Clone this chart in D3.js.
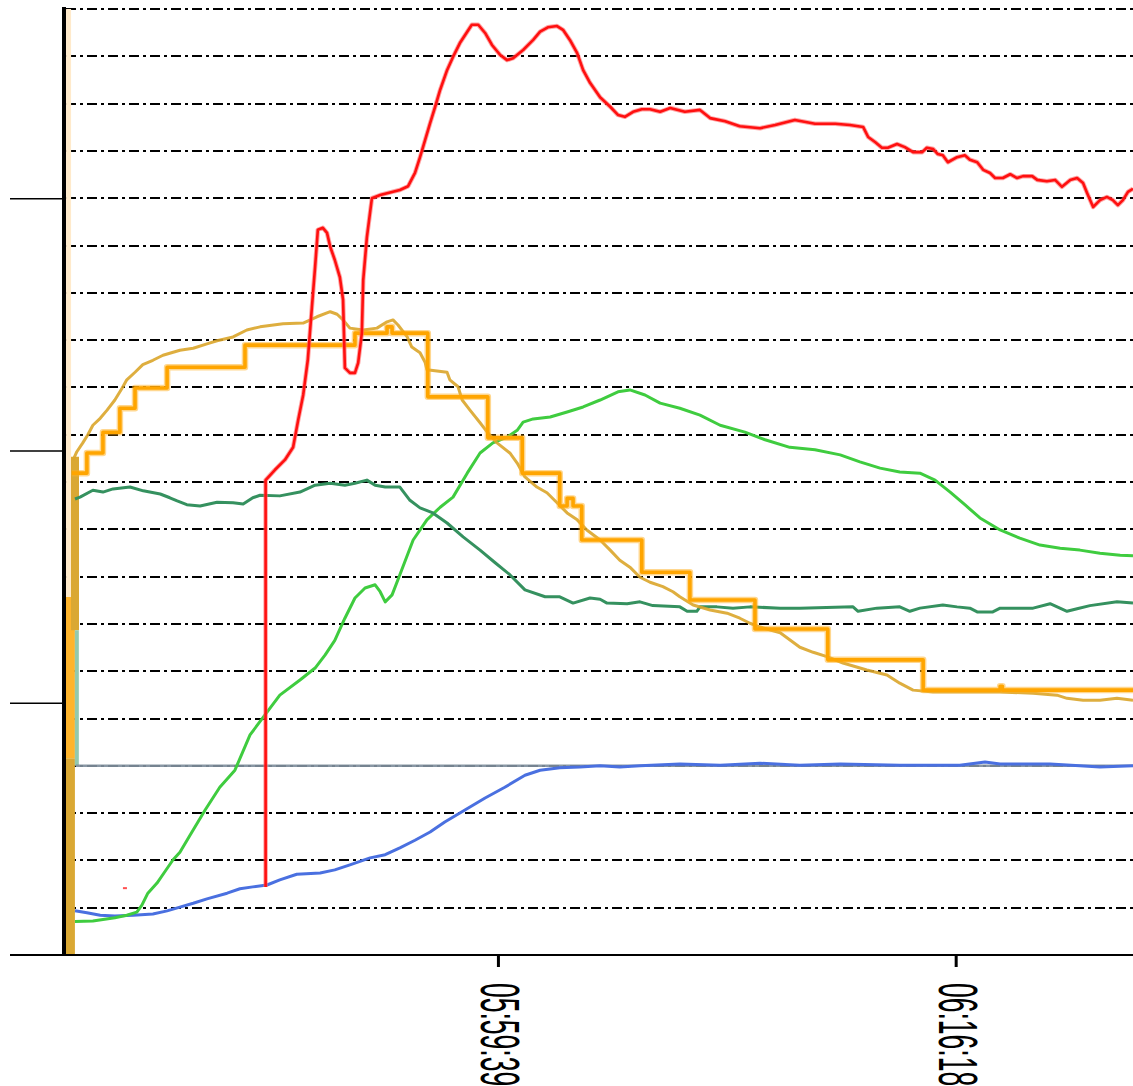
<!DOCTYPE html>
<html>
<head>
<meta charset="utf-8">
<script src="https://cdn.jsdelivr.net/npm/d3@7/dist/d3.min.js"></script>
<style>
  html, body { margin: 0; padding: 0; background: #ffffff; }
  svg { display: block; }
</style>
</head>
<body>
<svg id="chart" width="1133" height="1086"></svg>
<script>
// Trend log: elapsed seconds since 05:43:52 against process value.

const timeTicks = [947, 1946];          // 05:59:39, 06:16:18
const valueTicks = [40, 80, 120];

// Red trace (appears partway through the run)
const redSeries = [
  [440,10.8],[440,75.3],[460,76.9],[482,78.5],[500,80.5],[511,84.8],[522,88.8],[532,94.3],
  [541,102.7],[548,109.1],[554,115.0],[565,115.3],[574,114.5],[581,112.3],[591,110.2],
  [602,107.5],[609,103.9],[613,93.1],[624,92.3],[635,92.3],[642,93.9],[650,98.6],[653,107.0],
  [661,113.8],[672,120.0],[690,120.5],[716,121.0],[733,121.3],[751,121.9],[766,124.0],
  [777,126.5],[788,129.2],[799,131.9],[810,134.5],[821,137.2],[836,140.3],[849,142.4],
  [864,144.6],[880,146.4],[890,147.5],[904,147.5],[919,146.2],[934,144.3],[952,142.7],
  [967,141.9],[980,142.2],[1002,143.5],[1024,145.1],[1039,146.4],[1056,147.1],[1076,147.3],
  [1089,146.7],[1104,145.1],[1120,143.0],[1133,140.3],[1148,138.3],[1170,136.0],[1192,134.5],
  [1209,133.2],[1224,132.9],[1242,133.7],[1261,134.1],[1279,134.1],[1301,133.7],[1323,134.3],
  [1355,133.7],[1388,134.0],[1410,132.7],[1443,132.2],[1475,131.4],[1519,131.1],[1552,131.6],
  [1595,132.4],[1639,131.8],[1683,131.8],[1715,131.6],[1744,131.3],[1755,129.7],[1770,128.9],
  [1785,128.0],[1798,128.0],[1818,128.6],[1835,128.1],[1853,127.3],[1873,127.3],[1883,128.0],
  [1897,127.8],[1907,127.0],[1918,126.8],[1929,125.7],[1949,126.5],[1966,126.8],[1977,126.1],
  [1993,125.7],[2006,124.5],[2021,124.0],[2032,123.2],[2049,123.2],[2065,123.8],[2080,123.2],
  [2093,123.5],[2113,123.5],[2124,122.9],[2145,122.7],[2163,122.9],[2178,121.8],[2196,122.9],
  [2211,123.2],[2224,122.4],[2233,120.8],[2246,118.6],[2261,119.7],[2276,120.2],[2289,119.7],
  [2300,118.9],[2311,119.7],[2322,121.0],[2333,121.5]
];
const redSpeck = [[133, 10.6]];

// Dark green trace
const seaGreenSeries = [
  [24,72.3],[35,72.6],[63,73.7],[85,73.4],[107,73.9],[144,74.2],[173,73.6],[210,73.1],
  [231,72.5],[247,72.0],[268,71.4],[297,71.2],[334,71.8],[369,71.7],[391,71.5],[412,72.5],
  [428,72.9],[471,72.8],[515,73.4],[548,74.5],[581,74.8],[613,74.5],[635,74.8],[661,75.3],
  [679,74.5],[701,74.2],[733,74.2],[755,72.1],[777,70.9],[805,70.1],[836,68.5],[871,66.3],
  [908,64.2],[941,62.2],[973,60.3],[1006,57.9],[1050,56.8],[1082,56.8],[1111,55.8],
  [1148,56.6],[1170,56.4],[1185,55.8],[1229,55.7],[1257,56.0],[1285,55.4],[1344,55.2],
  [1360,54.5],[1381,54.5],[1388,55.2],[1425,55.2],[1460,55.0],[1497,55.2],[1563,55.0],
  [1606,55.0],[1722,55.2],[1733,54.5],[1774,55.0],[1824,55.2],[1846,54.5],[1868,55.0],
  [1918,55.5],[1949,55.2],[1977,55.0],[1993,54.4],[2027,54.4],[2043,55.0],[2115,55.0],
  [2152,55.7],[2189,54.5],[2211,54.9],[2239,55.4],[2298,56.0],[2333,55.8]
];

// Light green trace
const limeSeries = [
  [24,5.3],[63,5.4],[111,5.9],[137,6.3],[159,6.8],[170,7.9],[183,9.8],[203,11.4],[220,13.2],
  [238,15.1],[253,16.3],[275,19.0],[308,23.0],[340,26.6],[373,29.3],[406,34.9],[439,38.1],
  [471,41.2],[515,43.6],[548,45.5],[570,47.6],[591,49.9],[613,53.4],[635,56.6],[657,58.2],
  [679,58.7],[690,57.6],[701,56.0],[716,57.1],[733,60.3],[762,65.8],[792,69.0],[821,71.0],
  [849,72.6],[880,76.4],[908,79.6],[936,81.2],[967,82.1],[989,83.2],[1002,84.5],[1024,85.0],
  [1061,85.3],[1098,86.1],[1133,86.9],[1170,88.0],[1209,89.3],[1235,89.6],[1268,88.8],
  [1301,87.5],[1344,86.7],[1388,85.6],[1432,84.0],[1486,82.9],[1530,81.7],[1584,80.5],
  [1639,80.1],[1694,79.3],[1737,78.2],[1781,77.2],[1824,76.6],[1868,76.4],[1901,75.3],
  [1934,73.4],[1966,71.4],[1999,69.3],[2043,67.4],[2086,66.1],[2130,65.0],[2174,64.5],
  [2217,64.2],[2261,63.7],[2305,63.4],[2333,63.3]
];

// Blue trace
const blueSeries = [
  [24,7.0],[50,6.7],[79,6.3],[111,6.2],[151,6.3],[194,6.5],[225,7.0],[253,7.6],[282,8.2],
  [312,8.9],[356,9.8],[384,10.5],[412,10.8],[443,11.1],[471,11.9],[508,12.8],[559,13.0],
  [591,13.5],[624,14.3],[668,15.4],[701,15.9],[733,17.0],[766,18.2],[799,19.5],[831,21.1],
  [875,23.0],[919,24.9],[962,26.6],[1006,28.5],[1039,29.3],[1082,29.7],[1126,29.8],
  [1170,30.0],[1213,29.8],[1257,30.0],[1344,30.3],[1432,30.1],[1519,30.4],[1606,30.1],
  [1694,30.3],[1824,30.1],[1955,30.1],[2010,30.6],[2043,30.3],[2152,30.3],[2217,30.0],
  [2261,29.8],[2333,30.0]
];

// Grey set-point line
const greySeries = [[26,30.0],[2333,30.0]];

// Goldenrod trace
const goldSeries = [
  [20,78.5],[28,79.8],[41,81.2],[52,82.5],[63,84.0],[79,85.1],[94,86.4],[111,88.0],[127,89.9],
  [137,91.2],[155,92.4],[172,93.6],[194,94.3],[216,95.1],[253,95.9],[282,96.2],[312,96.9],
  [334,97.4],[369,98.0],[399,99.1],[428,99.6],[478,100.1],[522,100.2],[552,101.2],[581,102.0],
  [596,101.6],[609,100.7],[624,99.4],[653,99.1],[683,99.4],[705,100.4],[718,100.7],[729,99.9],
  [749,98.0],[759,96.4],[777,95.5],[788,94.0],[792,92.8],[836,92.4],[842,91.2],[860,90.1],
  [869,88.0],[886,86.4],[908,84.4],[925,82.8],[945,81.2],[973,79.6],[989,78.0],[1006,75.8],
  [1032,74.2],[1054,73.3],[1076,71.7],[1098,70.1],[1120,69.0],[1141,67.4],[1170,65.8],
  [1192,64.2],[1213,62.6],[1235,61.5],[1257,59.9],[1279,59.1],[1307,58.4],[1329,57.6],
  [1344,56.8],[1373,55.5],[1410,54.7],[1447,54.2],[1475,53.4],[1497,52.6],[1519,52.0],
  [1563,51.1],[1606,48.8],[1635,48.0],[1665,47.3],[1700,46.3],[1752,45.2],[1796,44.4],
  [1824,43.1],[1853,42.0],[1897,41.7],[1971,41.7],[2043,41.7],[2115,41.5],[2167,41.2],
  [2189,40.7],[2224,40.4],[2261,40.4],[2298,40.7],[2333,40.4]
];

// Orange stepped trace: each value holds until the next sample
const orangeSteps = [
  [17,76.4],[50,79.6],[85,82.9],[122,86.7],[155,89.9],[225,93.2],[395,96.7],[635,98.6],
  [705,99.6],[716,98.6],[794,88.5],[925,82.0],[1000,76.4],[1082,71.2],[1098,72.4],[1111,71.2],
  [1130,65.8],[1261,60.7],[1366,56.3],[1508,51.7],[1667,46.8],[1875,42.0],[2043,42.6],
  [2048,42.0],[2333,42.0]
];

// Start-up transients drawn at the first samples
const leadIns = [
  { key: "gold",        s: 14, from: 0,    to: 31.2 },
  { key: "orange",      s: 14, from: 31.2, to: 56.8 },
  { key: "orangeFaint", s: 10, from: 56.8, to: 150 },
  { key: "goldNarrow",  s: 24, from: 51.5, to: 79.0 },
  { key: "teal",        s: 28, from: 30,   to: 51.5 }
];

// ---------------------------------------------------------------------------

const W = 1133, H = 1086;
const plot = { left: 64, right: 1133, top: 9, bottom: 955 };

const x = d3.scaleLinear().domain([0, 2333]).range([plot.left, plot.right]);
const y = d3.scaleLinear().domain([0, 150]).range([plot.bottom, plot.top]);

const svg = d3.select("#chart");
svg.append("defs").append("clipPath").attr("id", "plotClip")
  .append("rect").attr("x", plot.left).attr("y", 0).attr("width", W - plot.left).attr("height", plot.bottom);

// Dash-dot grid
const gridValues = d3.range(1, 21).map(k => k * 7.5);
svg.append("g").attr("class", "grid")
  .selectAll("line").data(gridValues).join("line")
  .attr("x1", plot.left + 2).attr("x2", W)
  .attr("y1", d => Math.round(y(d))).attr("y2", d => Math.round(y(d)))
  .attr("stroke", "#000").attr("stroke-width", 2)
  .attr("stroke-dasharray", "10,4,3,4");

const line = d3.line().x(d => x(d[0])).y(d => y(d[1]));
const stepLine = d3.line().x(d => x(d[0])).y(d => y(d[1])).curve(d3.curveStepAfter);

const traces = svg.append("g").attr("clip-path", "url(#plotClip)")
  .attr("fill", "none").attr("stroke-linejoin", "round");

const leadStyle = {
  gold:        { color: "#DAA833", width: 9 },
  goldNarrow:  { color: "#DAA833", width: 8 },
  orange:      { color: "#FFB42C", width: 9 },
  orangeFaint: { color: "#FFEACB", width: 5 },
  teal:        { color: "#93C9AE", width: 4 }
};
traces.selectAll("line.lead").data(leadIns).join("line").attr("class", "lead")
  .attr("x1", d => x(d.s)).attr("x2", d => x(d.s))
  .attr("y1", d => y(d.from)).attr("y2", d => y(d.to))
  .attr("stroke", d => leadStyle[d.key].color)
  .attr("stroke-width", d => leadStyle[d.key].width);

traces.append("path").datum(greySeries).attr("d", line)
  .attr("stroke", "#7f8e9c").attr("stroke-opacity", 0.92).attr("stroke-width", 2.6);

traces.append("path").datum(blueSeries).attr("d", line)
  .attr("stroke", "#4a70e0").attr("stroke-width", 3);

traces.append("path").datum(limeSeries).attr("d", line)
  .attr("stroke", "#3fcc3f").attr("stroke-width", 3);

traces.append("path").datum(seaGreenSeries).attr("d", line)
  .attr("stroke", "#35915f").attr("stroke-width", 3);

traces.append("path").datum(goldSeries).attr("d", line)
  .attr("stroke", "#DAA52A").attr("stroke-width", 3).attr("stroke-opacity", 0.9);

traces.append("path").datum(orangeSteps).attr("d", stepLine)
  .attr("stroke", "#FFB020").attr("stroke-opacity", 0.5).attr("stroke-width", 6.5);
traces.append("path").datum(orangeSteps).attr("d", stepLine)
  .attr("stroke", "#FFA500").attr("stroke-width", 3.6);

traces.append("path").datum(redSeries).attr("d", line)
  .attr("stroke", "#ff6a6a").attr("stroke-width", 4.5).attr("stroke-opacity", 0.6);
traces.append("path").datum(redSeries).attr("d", line)
  .attr("stroke", "#ff1010").attr("stroke-width", 2.6);

traces.selectAll("rect.speck").data(redSpeck).join("rect").attr("class", "speck")
  .attr("x", d => x(d[0]) - 2).attr("y", d => y(d[1]) - 1)
  .attr("width", 4).attr("height", 2).attr("fill", "#ff5050").attr("stroke", "none");

// Axes
const yAxis = d3.axisLeft(y).tickValues(valueTicks).tickSize(plot.left - 10).tickFormat("");
const gy = svg.append("g").attr("transform", `translate(${plot.left},0)`).call(yAxis);
gy.select(".domain").remove();
gy.selectAll(".tick line").attr("stroke", "#000").attr("stroke-width", 1.6);

svg.append("line")
  .attr("x1", plot.left).attr("x2", plot.left)
  .attr("y1", 7).attr("y2", plot.bottom + 1)
  .attr("stroke", "#000").attr("stroke-width", 4);

svg.append("line")
  .attr("x1", 10).attr("x2", W)
  .attr("y1", plot.bottom).attr("y2", plot.bottom)
  .attr("stroke", "#000").attr("stroke-width", 2.2);

const clockFmt = d3.timeFormat("%H:%M:%S");
const clock = s => clockFmt(new Date(2000, 0, 1, 5, 43, 52 + s));

const xAxis = d3.axisBottom(x).tickValues(timeTicks).tickSize(12).tickFormat("");
const gx = svg.append("g").attr("transform", `translate(0,${plot.bottom})`).call(xAxis);
gx.select(".domain").remove();
gx.selectAll(".tick line").attr("stroke", "#000").attr("stroke-width", 3);

svg.append("g").selectAll("text").data(timeTicks).join("text")
  .attr("transform", d => `translate(${x(d) - 17},983) rotate(90) scale(1,2.1)`)
  .attr("font-family", "'Liberation Sans', Arial, sans-serif")
  .attr("font-size", 26.5)
  .attr("fill", "#000")
  .attr("text-anchor", "start")
  .text(d => clock(d));
</script>
</body>
</html>
